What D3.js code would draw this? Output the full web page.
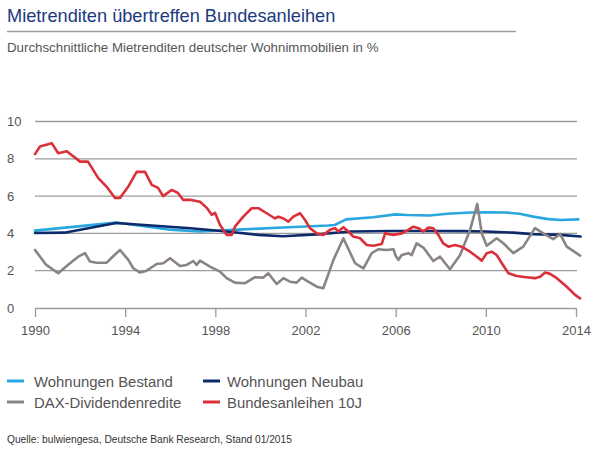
<!DOCTYPE html>
<html>
<head>
<meta charset="utf-8">
<script src="https://cdn.jsdelivr.net/npm/d3@7"></script>
<style>
  html, body { margin: 0; padding: 0; background: #fff; }
  svg { display: block; font-family: "Liberation Sans", Arial, sans-serif; }
</style>
</head>
<body>
<svg id="chart" width="600" height="451"></svg>
<script>
// ---------- DATA ----------
const title = "Mietrenditen übertreffen Bundesanleihen";
const subtitle = "Durchschnittliche Mietrenditen deutscher Wohnimmobilien in %";
const source = "Quelle: bulwiengesa, Deutsche Bank Research, Stand 01/2015";

const yTicks = [0, 2, 4, 6, 8, 10];
const xTicks = [1990, 1994, 1998, 2002, 2006, 2010, 2014];

const seriesNames = ["Wohnungen Bestand", "Wohnungen Neubau", "DAX-Dividendenredite", "Bundesanleihen 10J"];

// [year, value]
const bestand = [
  [1990.0, 4.15], [1993.6, 4.58], [1996.0, 4.2], [1997.3, 4.1], [1999.0, 4.2], [2001.0, 4.32],
  [2003.0, 4.42], [2003.3, 4.45], [2003.8, 4.75], [2005.0, 4.87], [2006.0, 5.02], [2006.5, 4.99],
  [2007.5, 4.96], [2008.3, 5.05], [2009.3, 5.12], [2010.0, 5.13], [2010.9, 5.12], [2011.5, 5.05],
  [2012.1, 4.9], [2012.7, 4.78], [2013.3, 4.72], [2014.1, 4.75]
];
const neubau = [
  [1990.0, 4.02], [1991.3, 4.04], [1993.6, 4.56], [1996.9, 4.28], [1998.5, 4.1], [1999.9, 3.92],
  [2001.0, 3.85], [2002.5, 3.95], [2004.0, 4.1], [2005.8, 4.13], [2007.0, 4.13], [2009.0, 4.12],
  [2010.0, 4.1], [2011.2, 4.04], [2012.1, 3.96], [2013.3, 3.92], [2014.2, 3.83]
];
const dax = [
  [1990.0, 3.11], [1990.5, 2.31], [1991.03, 1.86], [1991.55, 2.4], [1991.92, 2.75], [1992.22, 2.94],
  [1992.44, 2.49], [1992.74, 2.43], [1993.18, 2.43], [1993.48, 2.79], [1993.77, 3.11], [1994.14, 2.58],
  [1994.36, 2.13], [1994.66, 1.9], [1994.95, 2.0], [1995.4, 2.36], [1995.69, 2.4], [1995.99, 2.67],
  [1996.43, 2.25], [1996.73, 2.31], [1997.02, 2.52], [1997.17, 2.31], [1997.32, 2.54], [1997.76, 2.22],
  [1998.21, 1.95], [1998.5, 1.6], [1998.87, 1.36], [1999.32, 1.33], [1999.76, 1.65], [2000.13, 1.63],
  [2000.35, 1.86], [2000.72, 1.29], [2001.02, 1.6], [2001.31, 1.41], [2001.61, 1.36], [2001.83, 1.63],
  [2002.12, 1.41], [2002.5, 1.14], [2002.79, 1.06], [2003.24, 2.58], [2003.68, 3.74], [2004.2, 2.4],
  [2004.57, 2.13], [2004.94, 2.94], [2005.23, 3.15], [2005.6, 3.11], [2005.9, 3.15], [2006.0, 2.8],
  [2006.12, 2.58], [2006.27, 2.84], [2006.56, 2.94], [2006.71, 2.84], [2006.93, 3.47], [2007.23, 3.24],
  [2007.67, 2.52], [2007.97, 2.75], [2008.41, 2.08], [2008.86, 2.84], [2009.3, 4.19], [2009.62, 5.58],
  [2009.82, 4.0], [2010.04, 3.34], [2010.48, 3.74], [2010.78, 3.47], [2011.22, 2.94], [2011.66, 3.29],
  [2012.18, 4.28], [2012.55, 4.0], [2012.99, 3.69], [2013.29, 3.97], [2013.59, 3.29], [2014.18, 2.81]
];
const bund = [
  [1990.0, 8.25], [1990.22, 8.66], [1990.74, 8.84], [1991.03, 8.3], [1991.41, 8.4], [1992.0, 7.85],
  [1992.35, 7.85], [1992.8, 6.98], [1993.18, 6.5], [1993.55, 5.9], [1993.77, 5.9], [1994.13, 6.5],
  [1994.51, 7.3], [1994.88, 7.3], [1995.18, 6.6], [1995.46, 6.44], [1995.68, 6.0], [1996.06, 6.33],
  [1996.34, 6.17], [1996.57, 5.8], [1996.88, 5.8], [1997.32, 5.7], [1997.62, 5.37], [1997.84, 5.0],
  [1997.99, 5.1], [1998.21, 4.45], [1998.5, 3.92], [1998.73, 3.92], [1998.87, 4.36], [1999.24, 4.9],
  [1999.61, 5.35], [1999.91, 5.35], [2000.28, 5.08], [2000.65, 4.8], [2000.79, 4.9], [2001.02, 4.8],
  [2001.24, 4.63], [2001.46, 4.9], [2001.76, 5.08], [2001.98, 4.72], [2002.2, 4.28], [2002.5, 4.0],
  [2002.79, 3.92], [2003.09, 4.19], [2003.31, 4.28], [2003.46, 4.1], [2003.68, 4.33], [2003.9, 4.1],
  [2004.12, 3.83], [2004.42, 3.74], [2004.72, 3.38], [2005.01, 3.34], [2005.38, 3.43], [2005.53, 4.0],
  [2005.9, 3.92], [2006.27, 4.0], [2006.56, 4.19], [2006.78, 4.36], [2007.01, 4.28], [2007.23, 4.1],
  [2007.45, 4.31], [2007.67, 4.28], [2007.89, 3.92], [2008.11, 3.47], [2008.34, 3.29], [2008.63, 3.38],
  [2008.93, 3.29], [2009.3, 3.02], [2009.6, 2.75], [2009.82, 2.54], [2010.04, 2.94], [2010.26, 3.02],
  [2010.48, 2.84], [2010.71, 2.4], [2011.0, 1.86], [2011.37, 1.72], [2011.81, 1.65], [2012.18, 1.6],
  [2012.41, 1.68], [2012.63, 1.9], [2012.85, 1.83], [2013.15, 1.6], [2013.59, 1.14], [2013.96, 0.7],
  [2014.18, 0.52]
];

// ---------- CHART ----------
const colors = ["#2aa7df", "#0d2b6b", "#8a8582", "#db2f3a"];
const seriesData = [bestand, neubau, dax, bund];

const svg = d3.select("#chart");
const plotLeft = 35, plotRight = 576, plotTop = 121.5, plotBottom = 308;

const x = d3.scaleLinear().domain([1990, 2014]).range([plotLeft, plotRight]);
const y = d3.scaleLinear().domain([0, 10]).range([plotBottom, plotTop]);

// Title
svg.append("text").attr("x", 7).attr("y", 22)
  .attr("font-size", 18.2).attr("fill", "#1b3a7e").text(title);
svg.append("line").attr("x1", 7).attr("x2", 516).attr("y1", 31.5).attr("y2", 31.5)
  .attr("stroke", "#9a9a9a").attr("stroke-width", 1.5);
svg.append("text").attr("x", 7).attr("y", 52)
  .attr("font-size", 13.3).attr("fill", "#555").text(subtitle);

// Grid
svg.append("g").selectAll("line").data(yTicks.filter(d => d > 0)).join("line")
  .attr("x1", plotLeft).attr("x2", plotRight + 1)
  .attr("y1", d => y(d)).attr("y2", d => y(d))
  .attr("stroke", "#9c9c9c").attr("stroke-width", 1.3);

// Y labels
svg.append("g").selectAll("text").data(yTicks).join("text")
  .attr("x", 7).attr("y", d => y(d) + 4.5)
  .attr("font-size", 13).attr("fill", "#555").text(d => d);

// X axis
const xAxis = d3.axisBottom(x).tickValues(xTicks).tickFormat(d3.format("d")).tickSize(9).tickPadding(9);
const gx = svg.append("g").attr("transform", `translate(0,${plotBottom})`).call(xAxis);
gx.select(".domain").attr("stroke", "#9c9c9c").attr("stroke-width", 1.3)
  .attr("d", `M${plotLeft},0.5H${plotRight + 1}`);
gx.selectAll(".tick line").attr("stroke", "#9c9c9c").attr("stroke-width", 1.3);
gx.selectAll(".tick text").attr("font-size", 13).attr("fill", "#555")
  .attr("font-family", "\"Liberation Sans\", Arial, sans-serif");

// Lines
const line = d3.line().x(d => x(d[0])).y(d => y(d[1])).curve(d3.curveLinear);
svg.append("g").selectAll("path").data(seriesData).join("path")
  .attr("d", d => line(d))
  .attr("fill", "none")
  .attr("stroke", (d, i) => colors[i])
  .attr("stroke-width", 2.6)
  .attr("stroke-linejoin", "round")
  .attr("stroke-linecap", "round");

// Legend
const legendPos = [[7, 381, 27], [203, 381, 24], [7, 402, 27], [203, 402, 24]];
const lg = svg.append("g").selectAll("g").data(seriesNames).join("g")
  .attr("transform", (d, i) => `translate(${legendPos[i][0]},${legendPos[i][1]})`);
lg.append("line").attr("x1", 0).attr("x2", 17).attr("y1", 0).attr("y2", 0)
  .attr("stroke", (d, i) => colors[i]).attr("stroke-width", 3);
lg.append("text").attr("x", (d, i) => legendPos[i][2]).attr("y", 5.5)
  .attr("font-size", 14.9).attr("fill", "#555").text(d => d);

// Source
svg.append("text").attr("x", 7).attr("y", 443)
  .attr("font-size", 10.2).attr("fill", "#333").text(source);
</script>
</body>
</html>
